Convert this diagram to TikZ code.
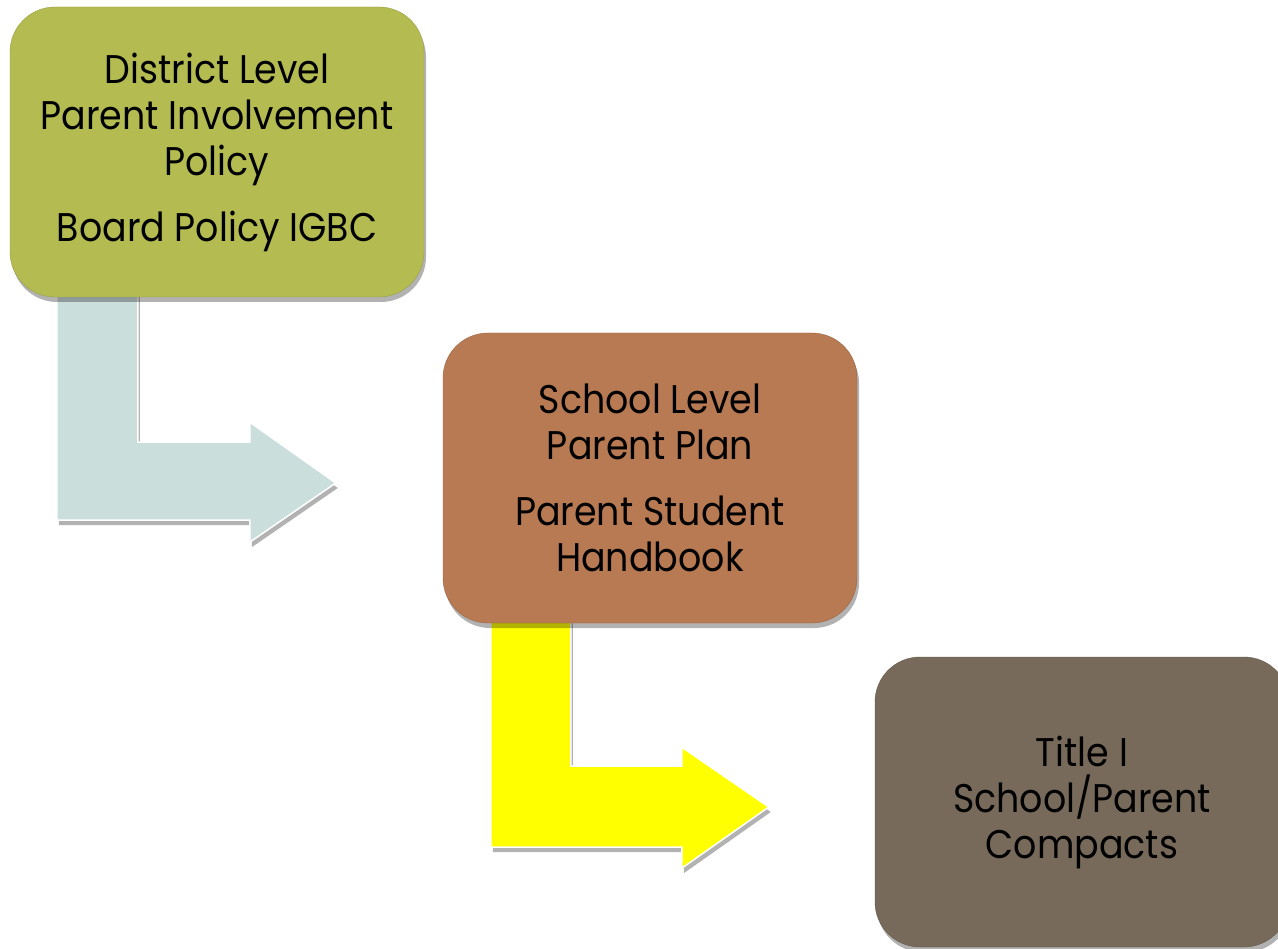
\documentclass[tikz,border=0pt]{standalone}
\usepackage{fontspec}
\setmainfont{Poppins}[FakeStretch=0.91]
\usetikzlibrary{shadows,calc}
\pgfdeclarelayer{background}
\pgfsetlayers{background,main}
\definecolor{boxA}{HTML}{B4BB50}
\definecolor{boxB}{HTML}{B77A52}
\definecolor{boxC}{HTML}{776A5A}
\definecolor{arrA}{HTML}{CADEDC}
\definecolor{arrB}{HTML}{FFFF00}
\tikzset{
  stagebox/.style={rounded corners=45pt, minimum width=414pt, minimum height=290pt,
    align=center, text=black, font=\fontsize{40}{46}\selectfont,
    drop shadow={shadow xshift=2pt, shadow yshift=-5pt, opacity=0.3, fill=black}},
  bentarrow/.style={draw=white, line width=1.5pt, line join=miter,
    drop shadow={shadow xshift=2pt, shadow yshift=-5pt, opacity=0.3, fill=black}}
}
\begin{document}
\begin{tikzpicture}[x=1pt,y=-1pt]
\useasboundingbox (0,0) rectangle (1278,949);
\path (217,152) node[stagebox, draw=boxA!85!black, fill=boxA] (b1) {District Level\\Parent Involvement\\Policy\\[20pt]Board Policy IGBC};
\path (650,478) node[stagebox, draw=boxB!85!black, fill=boxB] (b2) {School Level\\Parent Plan\\[20pt]Parent Student\\Handbook};
\path (1082,802) node[stagebox, draw=boxC!85!black, fill=boxC] (b3) {Title I\\School/Parent\\Compacts};
\begin{pgfonlayer}{background}
% arrow from b1 to b2
\filldraw[bentarrow, fill=arrA]
  ($(b1.south west)+(47,-8)$) -- ($(b1.south west)+(128,-8)$)
  |- ($(b1.south west)+(240,145)$) -- ($(b1.south west)+(240,125)$)
  -- ($(b2.west)+(-107,5)$)
  -- ($(b1.south west)+(240,245)$) -- ($(b1.south west)+(240,223)$)
  -- ($(b1.south west)+(47,223)$) -- cycle;
% arrow from b2 to b3
\filldraw[bentarrow, fill=arrB]
  ($(b2.south west)+(48,-8)$) -- ($(b2.south west)+(128,-8)$)
  |- ($(b2.south west)+(239,143)$) -- ($(b2.south west)+(239,124)$)
  -- ($(b3.west)+(-106,5)$)
  -- ($(b2.south west)+(239,245)$) -- ($(b2.south west)+(239,224)$)
  -- ($(b2.south west)+(48,224)$) -- cycle;
\end{pgfonlayer}
\end{tikzpicture}
\end{document}
